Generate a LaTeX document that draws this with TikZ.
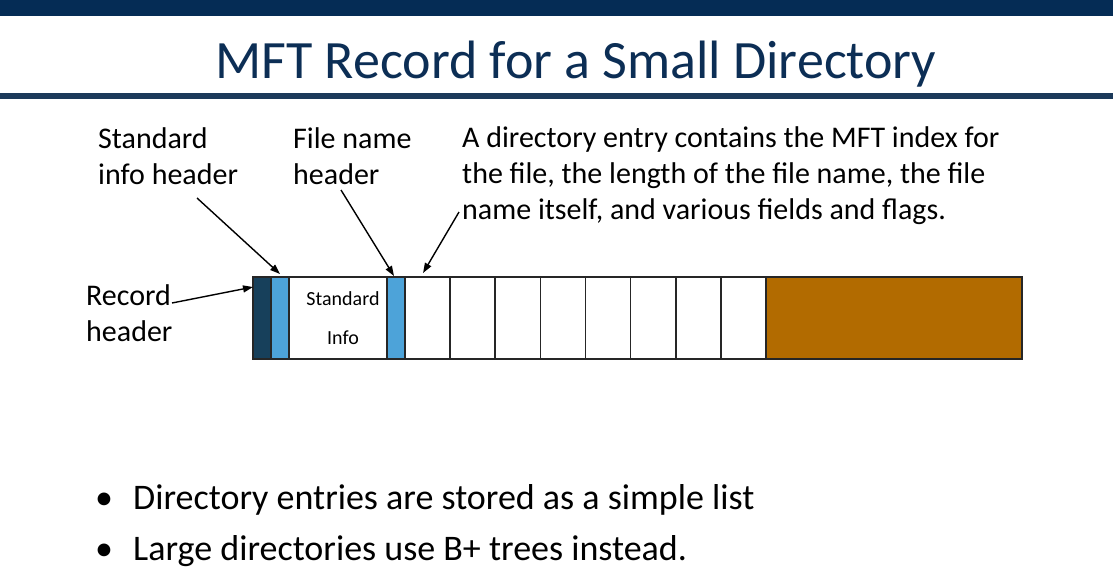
\documentclass[tikz,border=0pt]{standalone}
\usepackage{fontspec}
\setmainfont{Carlito}
\usetikzlibrary{positioning, arrows.meta}
\definecolor{barnavy}{HTML}{052C55}
\definecolor{rulenavy}{HTML}{1C3A5A}
\definecolor{titleblue}{HTML}{0C2E55}
\definecolor{recdark}{HTML}{17405B}
\definecolor{hdrblue}{HTML}{4DA3D9}
\definecolor{freebrown}{HTML}{B26B00}

\begin{document}
\begin{tikzpicture}[
    % GLOBAL CFG
    x=1pt, y=-1pt,
    >={Triangle[length=10pt,width=7pt]},
    % Styles
    cell/.style={% For the slots of the record
        rectangle,
        draw=black!85,
        line width=1.7pt,
        minimum height=82pt,
        inner sep=0pt,
        outer sep=0pt,
        fill=white,
    },
    hdr/.style={% For small header slots
        cell,
        minimum width=18pt,
        fill=hdrblue,
    },
    entry/.style={% For directory entries
        cell,
        minimum width=45.125pt,
    },
    title/.style={
        font=\fontsize{54}{60}\selectfont,
        text=titleblue,
        inner sep=0pt,
    },
    mylabel/.style={% base anchor sits on the last line
        font=\fontsize{30}{36}\selectfont,
        align=left,
        inner sep=0pt,
    },
    bullet/.style={
        font=\fontsize{36}{43}\selectfont,
        inner sep=0pt,
    },
    pointer/.style={% Arrows to the slots
        ->,
        line width=1.4pt,
    },
    ]

    \useasboundingbox (0,0) rectangle (1113,573);

    % Draw bars and title
    \fill[barnavy] (0,0) rectangle (1113,16);
    \fill[rulenavy] (0,93) rectangle (1113,99);
    \node[title, anchor=base] (title) at (576,78) {MFT Record for a Small Directory};

    % Draw record slots
    \node[hdr, fill=recdark, anchor=west] (rec) at (253,318) {};
    \node[hdr, right=0pt of rec] (sih) {};
    \node[cell, minimum width=98pt, right=0pt of sih, align=center,
          font=\fontsize{20}{39}\selectfont] (si) {\hspace{10pt}Standard\\\hspace{10pt}Info};
    \node[hdr, right=0pt of si] (fnh) {};
    \foreach \i in {1,...,8}
        \node[entry, anchor=west] (ent\i) at ({405+45.125*(\i-1)},318) {};
    \node[cell, fill=freebrown, minimum width=256pt, right=0pt of ent8] (free) {};

    % Draw labels
    \node[mylabel, anchor=base west] (reclbl) at (86,341) {Record\\header};
    \node[mylabel, anchor=base west] (sihlbl) at (98,184) {Standard\\info header};
    \node[mylabel, anchor=base west] (fnhlbl) at (293,184) {File name\\header};
    \node[mylabel, anchor=base west] (entlbl) at (462,219)
        {A directory entry contains the MFT index for\\the file, the length of the file name, the file\\name itself, and various fields and flags.};

    % Connect labels to slots
    \coordinate (rectail) at (172,303);
    \coordinate (sihtail) at (197,198);
    \coordinate (fnhtail) at (341,190);
    \coordinate (enttail) at (459,212);
    \draw[pointer] (rectail) -- ([yshift=31pt]rec.west);
    \draw[pointer] (sihtail) -- ([yshift=3pt]sih.north);
    \draw[pointer] (fnhtail) -- ([xshift=-2pt,yshift=1pt]fnh.north);
    \draw[pointer] (enttail) -- ([xshift=-4.5pt,yshift=4pt]ent1.north);

    % Bullets
    \node[bullet, anchor=base] (dot1) at (104,509) {•};
    \node[bullet, anchor=base west] (item1) at (133,509) {Directory entries are stored as a simple list};
    \node[bullet, anchor=base] (dot2) at (104,560) {•};
    \node[bullet, anchor=base west] (item2) at (133,560) {Large directories use B+ trees instead.};

\end{tikzpicture}
\end{document}
